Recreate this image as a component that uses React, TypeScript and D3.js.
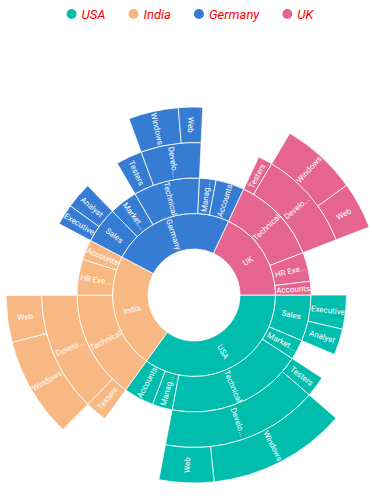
import React, { useEffect, useRef } from 'react';
import * as d3 from 'd3';

// Data
const countries = ['USA', 'India', 'Germany', 'UK'];
const countryColors = ['#00bdae', '#f8b883', '#357cd2', '#e56590'];

const rowCountry = [
  'USA', 'USA', 'USA', 'USA', 'USA', 'USA', 'USA', 'USA',
  'India', 'India', 'India', 'India', 'India',
  'Germany', 'Germany', 'Germany', 'Germany', 'Germany', 'Germany', 'Germany', 'Germany',
  'UK', 'UK', 'UK', 'UK', 'UK'
];
const rowJob = [
  'Sales', 'Sales', 'Marketing', 'Technical', 'Technical', 'Technical', 'Management', 'Accounts',
  'Technical', 'Technical', 'Technical', 'HR Executives', 'Accounts',
  'Sales', 'Sales', 'Marketing', 'Technical', 'Technical', 'Technical', 'Management', 'Accounts',
  'Technical', 'Technical', 'Technical', 'HR Executives', 'Accounts'
];
const rowGroup = [
  'Executive', 'Analyst', '', 'Testers', 'Developers', 'Developers', '', '',
  'Testers', 'Developers', 'Developers', '', '',
  'Executive', 'Analyst', '', 'Testers', 'Developers', 'Developers', '', '',
  'Testers', 'Developers', 'Developers', '', ''
];
const rowRole = [
  '', '', '', '', 'Windows', 'Web', '', '',
  '', 'Windows', 'Web', '', '',
  '', '', '', '', 'Windows', 'Web', '', '',
  '', 'Windows', 'Web', '', ''
];
const employeeCount = [
  52, 40, 40, 32, 172, 68, 40, 60,
  34, 125, 58, 72, 40,
  32, 40, 56, 40, 62, 30, 33, 57,
  22, 95, 58, 58, 27
];

type TreeNode = { name: string; value?: number; children?: TreeNode[] };

const App = () => {
  const ref = useRef<SVGSVGElement>(null);

  useEffect(() => {
    const width = 372;
    const height = 500;
    const cx = 194;
    const cy = 295;

    // build hierarchy, keeping order of the rows
    const tree: TreeNode = { name: 'root', children: [] };
    rowCountry.forEach((c, i) => {
      const path = [c, rowJob[i], rowGroup[i], rowRole[i]].filter(Boolean);
      let parent = tree;
      path.forEach((name, k) => {
        let child = parent.children!.find(n => n.name === name);
        if (!child) {
          child = { name };
          parent.children!.push(child);
        }
        if (k === path.length - 1) child.value = employeeCount[i];
        else if (!child.children) child.children = [];
        parent = child;
      });
    });

    const root = d3.hierarchy(tree).sum(d => d.value ?? 0);
    d3.partition<TreeNode>().size([2 * Math.PI, 5])(root);

    const r = d3.scaleLinear().domain([1, 5]).range([46, 188]);
    const color = d3.scaleOrdinal<string, string>().domain(countries).range(countryColors);
    const offset = Math.PI / 2;

    const svg = d3.select(ref.current);
    svg.selectAll('*').remove();

    const arc = d3.arc<any>()
      .startAngle(d => d.x0 + offset)
      .endAngle(d => d.x1 + offset)
      .innerRadius(d => r(d.y0))
      .outerRadius(d => r(d.y1));

    const nodes = root.descendants().filter(d => d.depth > 0) as any[];
    const countryOf = (d: any) => d.ancestors().find((a: any) => a.depth === 1).data.name;

    const g = svg.append('g').attr('transform', `translate(${cx},${cy})`);

    g.selectAll('path')
      .data(nodes)
      .enter()
      .append('path')
      .attr('d', arc)
      .attr('fill', d => color(countryOf(d)))
      .attr('stroke', '#ffffff')
      .attr('stroke-opacity', 0.8)
      .attr('stroke-width', 1);

    // labels, rotated along the radius
    const labels = g.selectAll('text')
      .data(nodes)
      .enter()
      .append('text')
      .attr('transform', d => {
        const a = (d.x0 + d.x1) / 2 + offset;
        const rm = (r(d.y0) + r(d.y1)) / 2;
        let deg = (a * 180 / Math.PI) % 360;
        const rot = deg < 180 ? deg - 90 : deg - 270;
        return `translate(${rm * Math.sin(a)},${-rm * Math.cos(a)}) rotate(${rot})`;
      })
      .attr('text-anchor', 'middle')
      .attr('dy', '0.35em')
      .attr('fill', '#ffffff')
      .attr('font-family', 'Roboto, sans-serif')
      .attr('font-size', '8px')
      .text(d => d.data.name);

    // trim long labels
    const maxWidth = 35;
    const trimWidth = 32;
    labels.each(function (d: any) {
      const el = this as SVGTextElement;
      const name = d.data.name as string;
      if (el.getComputedTextLength() <= maxWidth) return;
      for (let i = name.length - 1; i > 0; i--) {
        el.textContent = name.substring(0, i) + '...';
        if (el.getComputedTextLength() <= trimWidth) break;
      }
    });

    // Legend
    const legend = svg.append('g');
    let x = 0;
    countries.forEach((c, i) => {
      legend.append('circle')
        .attr('cx', x + 5)
        .attr('cy', 14)
        .attr('r', 5)
        .attr('fill', countryColors[i]);
      const t = legend.append('text')
        .attr('x', x + 15)
        .attr('y', 18.5)
        .attr('fill', '#ff0000')
        .attr('font-family', 'Roboto, sans-serif')
        .attr('font-style', 'italic')
        .attr('font-size', '13px')
        .text(c);
      x += 15 + (t.node() as SVGTextElement).getComputedTextLength() + (i < countries.length - 1 ? 23 : 0);
    });
    legend.attr('transform', `translate(${190 - x / 2},0)`);

    svg.attr('width', width).attr('height', height);
  }, []);

  return (
    <svg ref={ref} width={372} height={500} style={{ position: 'absolute', left: 0, top: 0 }} />
  );
};

export default App;
